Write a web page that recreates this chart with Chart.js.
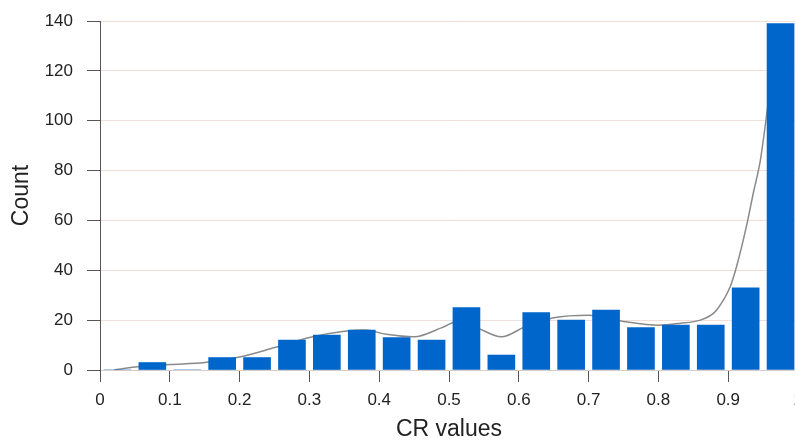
<!DOCTYPE html>
<html>
<head>
<meta charset="utf-8">
<script src="https://cdn.jsdelivr.net/npm/chart.js@4/dist/chart.umd.min.js"></script>
<style>
  html, body { margin: 0; padding: 0; background: #fff; }
  #wrap { width: 795px; height: 441px; overflow: hidden; position: relative; }
  canvas { display: block; }
</style>
</head>
<body>
<div id="wrap"><canvas id="c" width="830" height="441"></canvas></div>
<script>
// Histogram of CR values, bins of width 0.05
const binCenters = [0.025, 0.075, 0.125, 0.175, 0.225, 0.275, 0.325, 0.375, 0.425, 0.475,
                    0.525, 0.575, 0.625, 0.675, 0.725, 0.775, 0.825, 0.875, 0.925, 0.975];
const counts = [0, 3, 0, 5, 5, 12, 14, 16, 13, 12,
                25, 6, 23, 20, 24, 17, 18, 18, 33, 139];

// Smoothed density curve, scaled to counts
const curveX = [0.02, 0.05, 0.10, 0.15, 0.20, 0.25, 0.30, 0.35, 0.38, 0.41, 0.45, 0.49, 0.515,
                0.54, 0.575, 0.61, 0.65, 0.70, 0.75, 0.80, 0.83, 0.86, 0.88, 0.893, 0.903,
                0.912, 0.926, 0.936, 0.946, 0.954, 0.962];
const curveY = [0, 1.2, 2.2, 3, 5.2, 9, 13, 15.5, 16, 14.3, 13.3, 17, 19.8,
                17, 13.3, 17.5, 21, 22, 19.5, 18, 18.7, 20, 23, 28, 33.5,
                41.5, 57.5, 71, 84, 100, 118];

const xTickStep = 0.1;
const yTickStep = 20;
const yMax = 140;

const fontFamily = '"Liberation Sans", Arial, sans-serif';

new Chart(document.getElementById('c'), {
  type: 'bar',
  data: {
    datasets: [
      {
        type: 'bar',
        data: binCenters.map((x, i) => ({ x: x, y: counts[i] })),
        backgroundColor: '#0066cc',
        borderWidth: 0,
        barThickness: 27,
        order: 1
      },
      {
        type: 'line',
        data: curveX.map((x, i) => ({ x: x, y: curveY[i] })),
        borderColor: '#8a8a8a',
        borderWidth: 1.5,
        pointRadius: 0,
        fill: false,
        cubicInterpolationMode: 'monotone',
        order: 2
      }
    ]
  },
  options: {
    responsive: false,
    animation: false,
    devicePixelRatio: 1,
    layout: { padding: { top: 21, right: 32, left: 0, bottom: 0 } },
    plugins: { legend: { display: false }, tooltip: { enabled: false } },
    scales: {
      x: {
        type: 'linear',
        min: 0,
        max: 1,
        offset: false,
        afterFit: (s) => { s.height = 71; },
        ticks: {
          stepSize: xTickStep,
          color: '#222',
          padding: 8,
          maxRotation: 0,
          autoSkip: false,
          callback: (v) => String(Math.round(v * 10) / 10),
          font: { family: fontFamily, size: 17 }
        },
        grid: {
          offset: false,
          drawOnChartArea: false,
          drawTicks: true,
          tickLength: 12,
          tickColor: '#555',
          tickWidth: 1
        },
        border: { display: true, color: '#d6ccc8', width: 1 },
        title: {
          display: true,
          text: 'CR values',
          color: '#222',
          font: { family: fontFamily, size: 23, lineHeight: 1 },
          padding: { top: 0, bottom: 0 }
        }
      },
      y: {
        min: 0,
        max: yMax,
        afterFit: (s) => { s.width = 100; s.paddingTop = 0; s.paddingBottom = 0; },
        ticks: {
          stepSize: yTickStep,
          color: '#222',
          padding: 14,
          font: { family: fontFamily, size: 17 }
        },
        grid: {
          color: '#efdfd8',
          lineWidth: 1,
          tickLength: 13,
          tickColor: '#555',
          drawTicks: true
        },
        border: { display: true, color: '#555', width: 1 },
        title: {
          display: true,
          text: 'Count',
          color: '#222',
          font: { family: fontFamily, size: 23, lineHeight: 1 },
          padding: { top: 10, bottom: 0 }
        }
      }
    }
  }
});
</script>
</body>
</html>
